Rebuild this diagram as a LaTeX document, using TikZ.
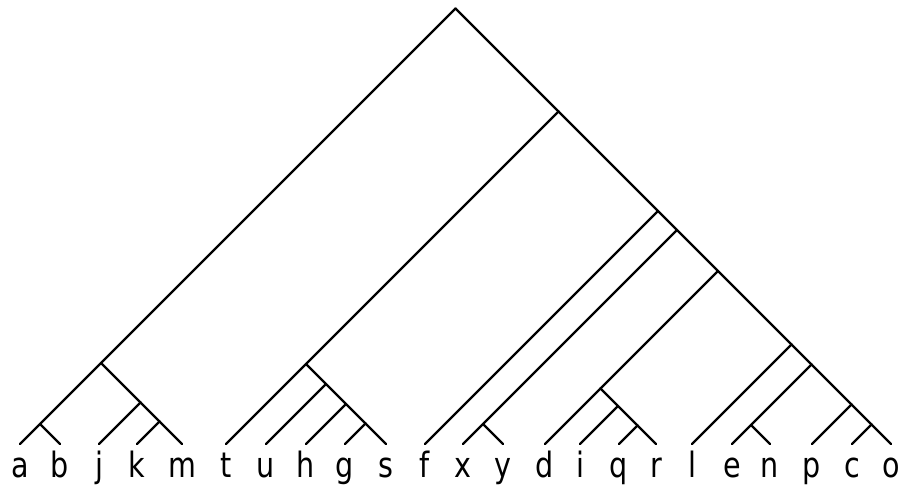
\documentclass[tikz,border=0pt]{standalone}
\usepackage{fontspec}
\newfontfamily\labfont{DejaVu Sans}
\begin{document}
\begin{tikzpicture}[x=1bp,y=-1bp,
  branch/.style={line width=2.3bp, line cap=round, line join=round},
  leaflabel/.style={anchor=base, inner sep=0pt, font=\labfont\fontsize{35}{35}\selectfont}]
\useasboundingbox (0,0) rectangle (904,489);
% leaves
\foreach \n/\x in {a/20,b/60,j/99,k/137,m/182,t/226,u/266,h/306,g/345,s/386,f/425,x/463,y/503,d/545,i/580,q/619,r/656,l/692,e/732,n/770,p/812,c/852,o/891}{
  \coordinate (L\n) at (\x,444);
  \node[leaflabel] (T\n) at (\x,477) {\scalebox{0.82}[1]{\n}};
}
% internal nodes
\coordinate (Nab) at (40,424);
\coordinate (Nkm) at (159.5,421.5);
\coordinate (Njkm) at (140.5,402.5);
\coordinate (Nabjkm) at (101,363);
\coordinate (Ngs) at (365.5,423.5);
\coordinate (Nhgs) at (346,404);
\coordinate (Nuhgs) at (326,384);
\coordinate (Ntuhgs) at (306,364);
\coordinate (Nxy) at (483,424);
\coordinate (Nqr) at (637.5,425.5);
\coordinate (Niqr) at (618,406);
\coordinate (Ndiqr) at (600.5,388.5);
\coordinate (Nen) at (751,425);
\coordinate (Nco) at (871.5,424.5);
\coordinate (Npco) at (851.5,404.5);
\coordinate (Nenpco) at (811.5,364.5);
\coordinate (Nlo) at (791.5,344.5);
\coordinate (Ndo) at (718,271);
\coordinate (Nxo) at (677,230);
\coordinate (Nfo) at (658,211);
\coordinate (Nto) at (558.5,111.5);
\coordinate (Root) at (455.5,8.5);
% edges
\foreach \p/\c in {Root/Nabjkm,Root/Nto,
  Nabjkm/Nab,Nabjkm/Njkm,Nab/La,Nab/Lb,Njkm/Lj,Njkm/Nkm,Nkm/Lk,Nkm/Lm,
  Nto/Ntuhgs,Nto/Nfo,Ntuhgs/Lt,Ntuhgs/Nuhgs,Nuhgs/Lu,Nuhgs/Nhgs,Nhgs/Lh,Nhgs/Ngs,Ngs/Lg,Ngs/Ls,
  Nfo/Lf,Nfo/Nxo,Nxo/Nxy,Nxo/Ndo,Nxy/Lx,Nxy/Ly,
  Ndo/Ndiqr,Ndo/Nlo,Ndiqr/Ld,Ndiqr/Niqr,Niqr/Li,Niqr/Nqr,Nqr/Lq,Nqr/Lr,
  Nlo/Ll,Nlo/Nenpco,Nenpco/Nen,Nenpco/Npco,Nen/Le,Nen/Ln,Npco/Lp,Npco/Nco,Nco/Lc,Nco/Lo}{
  \draw[branch] (\p) -- (\c);
}
\end{tikzpicture}
\end{document}
